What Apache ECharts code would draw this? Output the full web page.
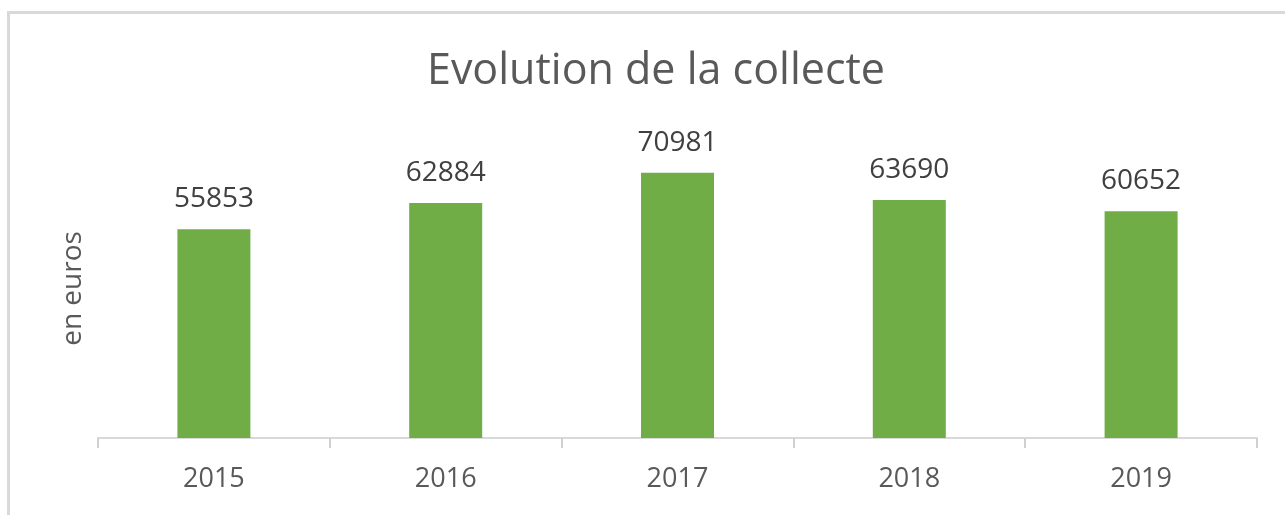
<!DOCTYPE html>
<html>
<head>
<meta charset="utf-8">
<script src="https://cdn.jsdelivr.net/npm/echarts@6/dist/echarts.min.js"></script>
<style>
  html, body { margin: 0; padding: 0; background: #fff; }
  #main { width: 1285px; height: 515px; }
</style>
</head>
<body>
<div id="main"></div>
<script>
var years = ['2015', '2016', '2017', '2018', '2019'];
var collecte = [55853, 62884, 70981, 63690, 60652];

var dom = document.getElementById('main');
var myChart = echarts.init(dom, null, { renderer: 'canvas' });

var option = {
    animation: false,
    backgroundColor: '#fff',
    graphic: [
        {
            type: 'rect',
            left: 6,
            top: 10,
            shape: { width: 1300, height: 520 },
            style: { fill: 'none', stroke: '#d9d9d9', lineWidth: 3 }
        }
    ],
    title: {
        text: 'Evolution de la collecte',
        left: 422,
        top: 45,
        textStyle: {
            fontFamily: 'Open Sans',
            fontSize: 43,
            fontWeight: 'normal',
            color: '#595959'
        }
    },
    grid: {
        left: 98,
        right: 28,
        top: 139,
        bottom: 77
    },
    xAxis: {
        type: 'category',
        data: years,
        axisLine: { lineStyle: { color: '#d9d9d9', width: 2 } },
        axisTick: {
            show: true,
            alignWithLabel: false,
            interval: 0,
            length: 10,
            lineStyle: { color: '#d0d0d0', width: 2 }
        },
        axisLabel: {
            fontFamily: 'Open Sans',
            fontSize: 27,
            color: '#595959',
            margin: 28
        }
    },
    yAxis: {
        type: 'value',
        min: 0,
        max: 80000,
        name: 'en euros',
        nameLocation: 'middle',
        nameRotate: 90,
        nameGap: 11,
        nameTextStyle: {
            fontFamily: 'Open Sans',
            fontSize: 28,
            color: '#595959'
        },
        axisLine: { show: false },
        axisTick: { show: false },
        axisLabel: { show: false },
        splitLine: { show: false }
    },
    series: [
        {
            type: 'bar',
            data: collecte,
            barWidth: 73,
            itemStyle: { color: '#70ad47' },
            label: {
                show: true,
                position: 'top',
                distance: 16,
                fontFamily: 'Open Sans',
                fontSize: 28,
                color: '#404040'
            }
        }
    ]
};

myChart.setOption(option);
window.addEventListener('resize', myChart.resize);
</script>
</body>
</html>
